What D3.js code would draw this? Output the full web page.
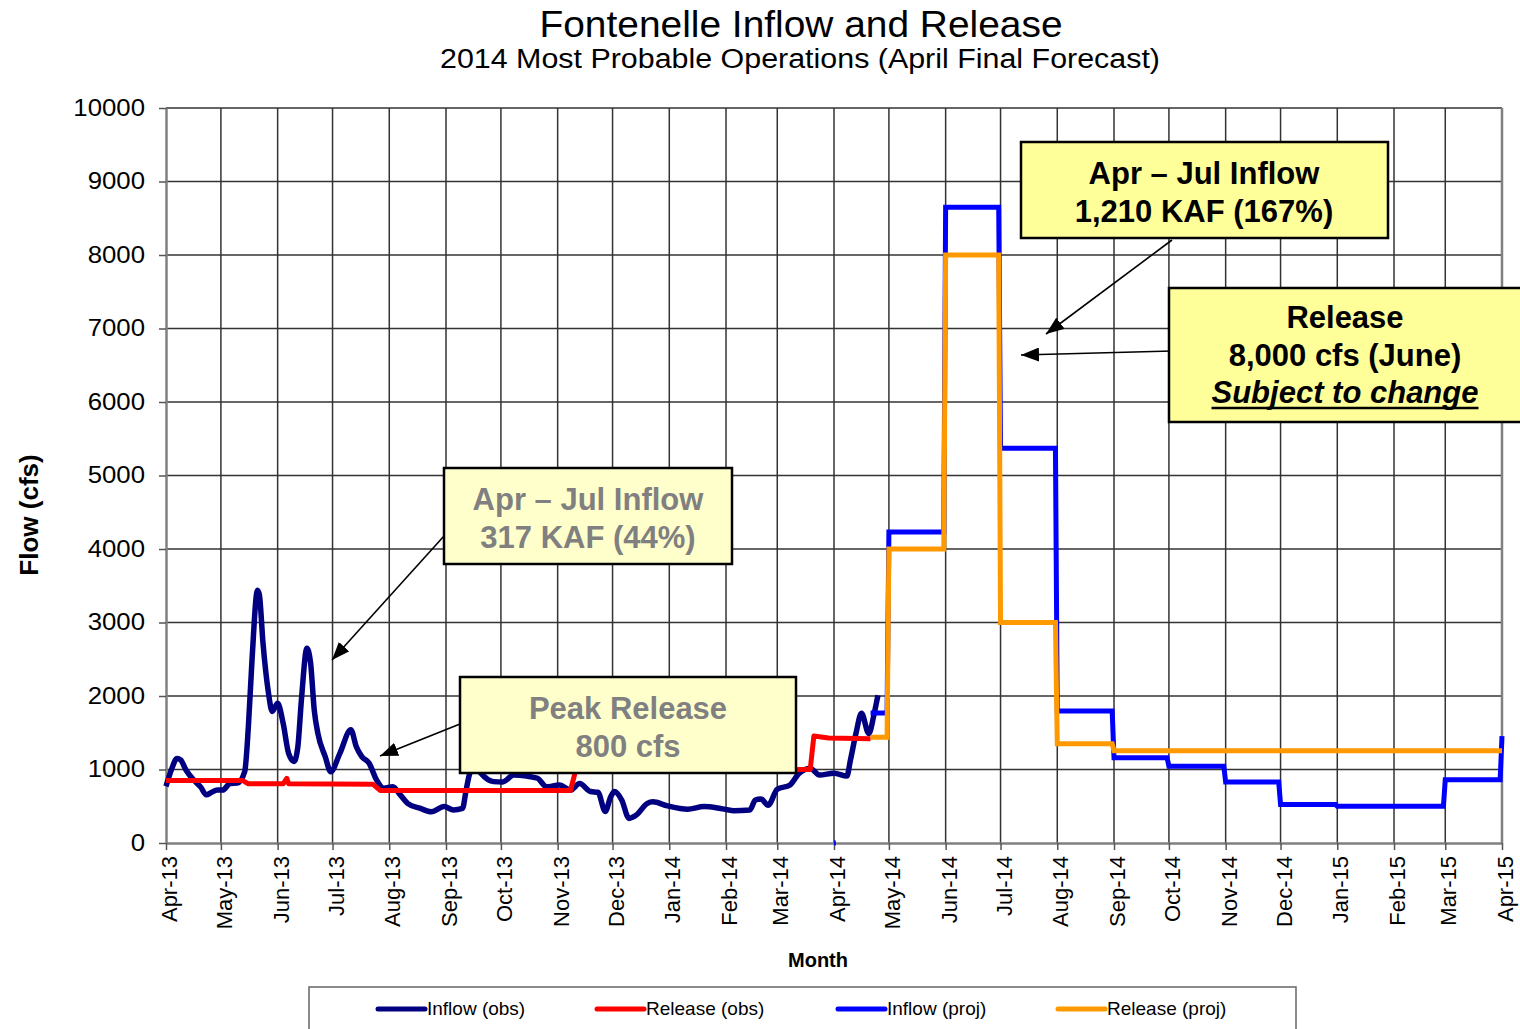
<!DOCTYPE html>
<html>
<head>
<meta charset="utf-8">
<script src="https://cdnjs.cloudflare.com/ajax/libs/d3/7.8.5/d3.min.js"></script>
<style>
body { margin: 0; background: #fff; }
svg { display: block; font-family: "Liberation Sans", Arial, Helvetica, sans-serif; }
</style>
</head>
<body>
<svg id="chart" width="1520" height="1029"></svg>
<script>
var inflowObsDates = [
    "2013-04-01", "2013-04-04", "2013-04-07", "2013-04-09", "2013-04-12", "2013-04-16", "2013-04-20", "2013-04-23",
    "2013-04-26", "2013-04-29", "2013-05-02", "2013-05-06", "2013-05-10", "2013-05-14", "2013-05-16", "2013-05-18",
    "2013-05-21", "2013-05-22", "2013-05-24", "2013-05-27", "2013-05-29", "2013-06-01", "2013-06-04", "2013-06-07",
    "2013-06-10", "2013-06-12", "2013-06-14", "2013-06-17", "2013-06-19", "2013-06-21", "2013-06-23", "2013-06-27",
    "2013-06-30", "2013-07-05", "2013-07-11", "2013-07-14", "2013-07-17", "2013-07-21", "2013-07-25", "2013-07-29",
    "2013-08-03", "2013-08-07", "2013-08-11", "2013-08-18", "2013-08-24", "2013-08-31", "2013-09-05", "2013-09-10",
    "2013-09-12", "2013-09-14", "2013-09-17", "2013-09-20", "2013-09-27", "2013-10-02", "2013-10-08", "2013-10-15",
    "2013-10-21", "2013-10-26", "2013-11-02", "2013-11-08", "2013-11-13", "2013-11-19", "2013-11-23", "2013-11-27",
    "2013-11-30", "2013-12-02", "2013-12-06", "2013-12-10", "2013-12-14", "2013-12-20", "2013-12-23", "2013-12-31",
    "2014-01-11", "2014-01-20", "2014-01-29", "2014-02-05", "2014-02-14", "2014-02-17", "2014-02-20", "2014-02-24",
    "2014-03-01", "2014-03-08", "2014-03-13", "2014-03-19", "2014-03-24", "2014-04-01", "2014-04-08", "2014-04-10",
    "2014-04-13", "2014-04-16", "2014-04-20", "2014-04-23", "2014-04-25"
];
var inflowObsValues = [
    770, 1000, 1150, 1130, 990, 860, 760, 655,
    690, 720, 720, 810, 815, 970, 1580, 2490,
    3440, 3380, 2720, 2040, 1790, 1900, 1630, 1220,
    1110, 1300, 1950, 2650, 2450, 1810, 1490, 1175,
    970, 1220, 1540, 1310, 1175, 1085, 860, 745,
    765, 655, 540, 470, 425, 495, 450, 470,
    720, 950, 1050, 950, 835, 830, 925, 910,
    880, 765, 790, 720, 810, 700, 690, 430,
    630, 700, 585, 335, 380, 540, 560, 505,
    460, 495, 470, 440, 450, 585, 600, 515,
    730, 790, 950, 1015, 925, 950, 910, 1130,
    1490, 1765, 1490, 1765, 2010
];

// observed release, cfs
var releaseObsDates = [
    "2013-04-01", "2013-05-13", "2013-05-16", "2013-06-04", "2013-06-06", "2013-06-07", "2013-07-23", "2013-07-27",
    "2013-11-08", "2013-11-11", "2014-03-19", "2014-03-21", "2014-03-29", "2014-04-21"
];
var releaseObsValues = [
    850, 850, 805, 805, 880, 805, 800, 715,
    715, 1000, 1000, 1455, 1430, 1420
];

// projected monthly values (May-14 .. Mar-15)
var projMonths = [
    "2014-05-01", "2014-06-01", "2014-07-01", "2014-08-01", "2014-09-01", "2014-10-01",
    "2014-11-01", "2014-12-01", "2015-01-01", "2015-02-01", "2015-03-01"
];
var inflowProjValues = [4230, 8650, 5370, 1795, 1160, 1045, 830, 525, 500, 500, 860];
var releaseProjValues = [4000, 8000, 3000, 1350, 1255, 1255, 1255, 1255, 1255, 1255, 1255];

// end of April 2014 and the 1 Apr 2015 end point
var aprilProjStart = "2014-04-21";
var aprilProjEnd = "2014-04-30";
var inflowProjApril = 1770;
var releaseProjApril = 1440;
var endDate = "2015-04-01";
var inflowProjEnd = 1455;
var releaseProjEnd = 1255;

var monthLabels = [
    "Apr-13", "May-13", "Jun-13", "Jul-13", "Aug-13", "Sep-13", "Oct-13", "Nov-13", "Dec-13",
    "Jan-14", "Feb-14", "Mar-14", "Apr-14", "May-14", "Jun-14", "Jul-14", "Aug-14", "Sep-14",
    "Oct-14", "Nov-14", "Dec-14", "Jan-15", "Feb-15", "Mar-15", "Apr-15"
];
var yTicks = [0, 1000, 2000, 3000, 4000, 5000, 6000, 7000, 8000, 9000, 10000];

var seriesNames = ["Inflow (obs)", "Release (obs)", "Inflow (proj)", "Release (proj)"];
var seriesColors = ["#000080", "#ff0000", "#0000ff", "#ff9900"];

var parseDay = d3.timeParse("%Y-%m-%d");
var parseMonth = d3.timeParse("%b-%y");
var monthDates = monthLabels.map(parseMonth);

var plotLeft = 166, plotRight = 1502, plotTop = 108, plotBottom = 843;

var svg = d3.select("#chart");

var x = d3.scaleTime()
    .domain([monthDates[0], monthDates[monthDates.length - 1]])
    .range([plotLeft, plotRight]);
var y = d3.scaleLinear()
    .domain([0, 10000])
    .range([plotBottom, plotTop]);

// monthly steps: value held from the 1st to the last day of each month
function stepSeries(aprVal, values, endVal) {
    var pts = [[parseDay(aprilProjStart), aprVal], [parseDay(aprilProjEnd), aprVal]];
    projMonths.forEach(function (m, i) {
        var start = parseDay(m);
        var end = d3.timeDay.offset(d3.timeMonth.offset(start, 1), -1);
        pts.push([start, values[i]]);
        pts.push([end, values[i]]);
    });
    pts.push([parseDay(endDate), endVal]);
    return pts;
}

var inflowObs = inflowObsDates.map(function (d, i) { return [parseDay(d), inflowObsValues[i]]; });
var releaseObs = releaseObsDates.map(function (d, i) { return [parseDay(d), releaseObsValues[i]]; });
// tiny stray zero value at 1 Apr 2014 in the projected inflow
var inflowProj = [[parseDay("2014-04-01"), 0], [parseDay("2014-04-02"), 0], [parseDay("2014-04-03"), null]]
    .concat(stepSeries(inflowProjApril, inflowProjValues, inflowProjEnd));
var releaseProj = stepSeries(releaseProjApril, releaseProjValues, releaseProjEnd);

// grid
var grid = svg.append("g");
grid.selectAll("line.h")
    .data(yTicks.slice(1))
    .enter().append("line")
    .attr("x1", plotLeft).attr("x2", plotRight)
    .attr("y1", function (d) { return y(d); })
    .attr("y2", function (d) { return y(d); })
    .style("stroke", "#333")
    .style("stroke-width", 1.5);
grid.selectAll("line.v")
    .data(monthDates.slice(1))
    .enter().append("line")
    .attr("y1", plotTop).attr("y2", plotBottom)
    .attr("x1", function (d) { return x(d); })
    .attr("x2", function (d) { return x(d); })
    .style("stroke", "#333")
    .style("stroke-width", 1.5);

// axes
var yAxis = svg.append("g")
    .attr("transform", "translate(" + plotLeft + ",0)")
    .call(d3.axisLeft(y).tickValues(yTicks).tickSize(7).tickSizeOuter(0).tickFormat(d3.format("d")));
var xAxis = svg.append("g")
    .attr("transform", "translate(0," + plotBottom + ")")
    .call(d3.axisBottom(x).tickValues(monthDates).tickSize(7).tickSizeOuter(0).tickFormat(""));
[yAxis, xAxis].forEach(function (a) {
    a.select(".domain").style("stroke", "#808080").style("stroke-width", 2.5);
    a.selectAll(".tick line").style("stroke", "#555").style("stroke-width", 1.5);
});
yAxis.selectAll(".tick text")
    .attr("x", -21)
    .style("font-size", "23px")
    .style("font-family", "'Liberation Sans', Arial, sans-serif")
    .style("fill", "#000")
    .each(function () {
        // the original labels are a touch wider than Arial
        var w = this.getComputedTextLength();
        d3.select(this).attr("textLength", w * 1.12).attr("lengthAdjust", "spacingAndGlyphs");
    });
svg.append("line")
    .attr("x1", plotRight).attr("x2", plotRight).attr("y1", plotTop).attr("y2", plotBottom)
    .style("stroke", "#808080").style("stroke-width", 2.5);

svg.append("g").selectAll("text")
    .data(monthDates)
    .enter().append("text")
    .attr("transform", function (d) { return "translate(" + x(d) + ",856) rotate(-90)"; })
    .attr("dy", "0.5em")
    .attr("text-anchor", "end")
    .style("font-size", "22px")
    .text(function (d, i) { return monthLabels[i]; });

// series
var line = d3.line()
    .defined(function (d) { return d[1] != null; })
    .x(function (d) { return x(d[0]); })
    .y(function (d) { return y(d[1]); });

svg.append("path").datum(inflowObs)
    .attr("d", line.curve(d3.curveMonotoneX))
    .style("fill", "none").style("stroke", seriesColors[0]).style("stroke-width", 5.5)
    .style("stroke-linejoin", "round");
svg.append("path").datum(releaseObs)
    .attr("d", line.curve(d3.curveLinear))
    .style("fill", "none").style("stroke", seriesColors[1]).style("stroke-width", 5)
    .style("stroke-linejoin", "round");
svg.append("path").datum(inflowProj)
    .attr("d", line.curve(d3.curveLinear))
    .style("fill", "none").style("stroke", seriesColors[2]).style("stroke-width", 5);
svg.append("path").datum(releaseProj)
    .attr("d", line.curve(d3.curveLinear))
    .style("fill", "none").style("stroke", seriesColors[3]).style("stroke-width", 5);

// titles
svg.append("text")
    .attr("x", 801).attr("y", 37)
    .attr("text-anchor", "middle")
    .style("font-size", "37px")
    .attr("textLength", 523).attr("lengthAdjust", "spacingAndGlyphs")
    .text("Fontenelle Inflow and Release");
svg.append("text")
    .attr("x", 800).attr("y", 68)
    .attr("text-anchor", "middle")
    .style("font-size", "27px")
    .attr("textLength", 720).attr("lengthAdjust", "spacingAndGlyphs")
    .text("2014 Most Probable Operations (April Final Forecast)");
svg.append("text")
    .attr("transform", "translate(38,515) rotate(-90)")
    .attr("text-anchor", "middle")
    .style("font-size", "26px").style("font-weight", "bold")
    .text("Flow (cfs)");
svg.append("text")
    .attr("x", 818).attr("y", 967)
    .attr("text-anchor", "middle")
    .style("font-size", "20px").style("font-weight", "bold")
    .text("Month");

// annotation arrows
svg.append("defs").append("marker")
    .attr("id", "arrow")
    .attr("markerUnits", "userSpaceOnUse")
    .attr("markerWidth", 20).attr("markerHeight", 14)
    .attr("refX", 18).attr("refY", 7)
    .attr("orient", "auto")
    .append("path")
    .attr("d", "M0,0 L18,7 L0,14 Z")
    .style("fill", "#000");

var arrows = [
    [1172, 240, 1046, 334],
    [1172, 351, 1021, 355],
    [444, 536, 332, 660],
    [460, 724, 380, 756]
];
svg.append("g").selectAll("line")
    .data(arrows)
    .enter().append("line")
    .attr("x1", function (d) { return d[0]; })
    .attr("y1", function (d) { return d[1]; })
    .attr("x2", function (d) { return d[2]; })
    .attr("y2", function (d) { return d[3]; })
    .style("stroke", "#000").style("stroke-width", 1.6)
    .attr("marker-end", "url(#arrow)");

// annotation boxes
var boxes = [
    { x: 1021, y: 142, w: 367, h: 96, fill: "#ffff99", color: "#000", cx: 1204, lines: ["Apr \u2013 Jul Inflow", "1,210 KAF (167%)"], base: 184 },
    { x: 1169, y: 288, w: 360, h: 134, fill: "#ffff99", color: "#000", cx: 1345, lines: ["Release", "8,000 cfs (June)", "Subject to change"], base: 328 },
    { x: 444, y: 468, w: 288, h: 96, fill: "#ffffcc", color: "#808080", cx: 588, lines: ["Apr \u2013 Jul Inflow", "317 KAF (44%)"], base: 510 },
    { x: 460, y: 677, w: 336, h: 96, fill: "#ffffcc", color: "#808080", cx: 628, lines: ["Peak Release", "800 cfs"], base: 719 }
];
boxes.forEach(function (b) {
    var g = svg.append("g");
    g.append("rect")
        .attr("x", b.x).attr("y", b.y).attr("width", b.w).attr("height", b.h)
        .style("fill", b.fill).style("stroke", "#000").style("stroke-width", 2.5);
    b.lines.forEach(function (t, i) {
        var txt = g.append("text")
            .attr("x", b.cx).attr("y", b.base + i * 37.5)
            .attr("text-anchor", "middle")
            .style("font-size", "31px").style("font-weight", "bold")
            .style("fill", b.color)
            .text(t);
        if (t === "Subject to change") {
            txt.style("font-style", "italic");
            var w = txt.node().getComputedTextLength();
            g.append("line")
                .attr("x1", b.cx - w / 2).attr("x2", b.cx + w / 2)
                .attr("y1", b.base + i * 37.5 + 5).attr("y2", b.base + i * 37.5 + 5)
                .style("stroke", "#000").style("stroke-width", 2.5);
        }
    });
});

// legend
var legend = svg.append("g");
legend.append("rect")
    .attr("x", 309).attr("y", 987).attr("width", 987).attr("height", 60)
    .style("fill", "#fff").style("stroke", "#666").style("stroke-width", 1.5);
var legendX = [378, 597, 838, 1058];
seriesNames.forEach(function (name, i) {
    legend.append("line")
        .attr("x1", legendX[i]).attr("x2", legendX[i] + 47)
        .attr("y1", 1009).attr("y2", 1009)
        .style("stroke", seriesColors[i]).style("stroke-width", 5)
        .style("stroke-linecap", "round");
    legend.append("text")
        .attr("x", legendX[i] + 49).attr("y", 1015)
        .style("font-size", "19px")
        .text(name);
});
</script>
</body>
</html>
